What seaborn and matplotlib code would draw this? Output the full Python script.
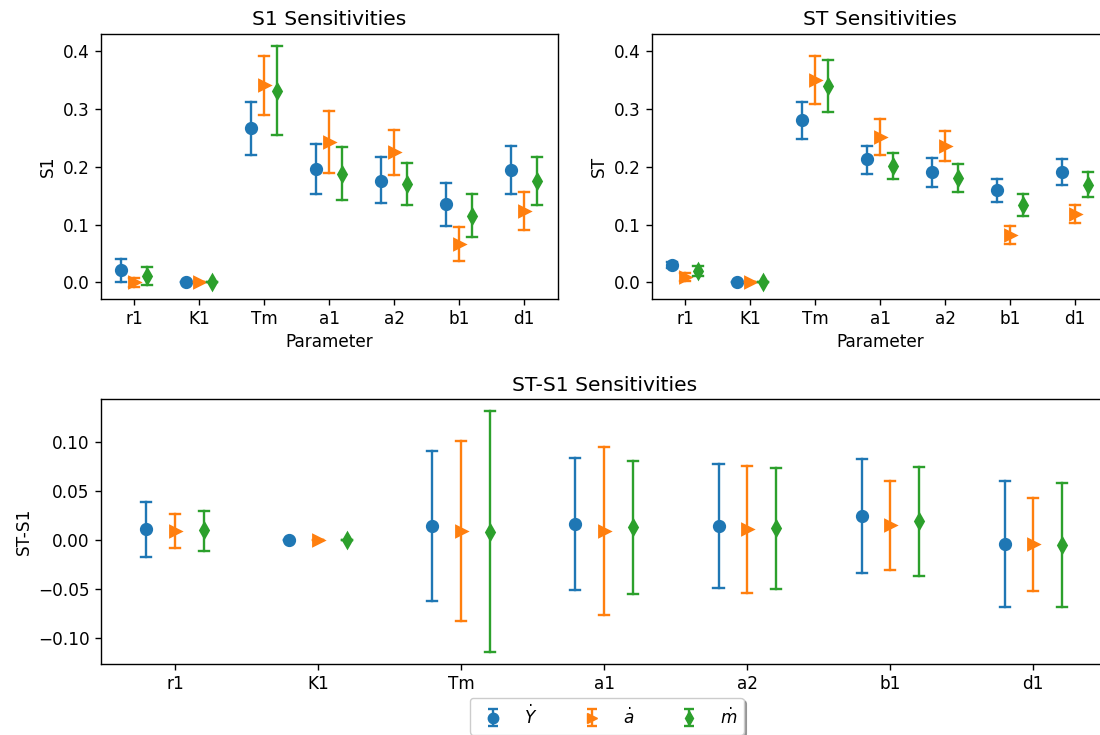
import numpy as np
import pandas as pd
import matplotlib
matplotlib.use("Agg")
import matplotlib.pyplot as plt
import seaborn as sns

params = ["r1", "K1", "Tm", "a1", "a2", "b1", "d1"]
series = [r"$\dot{Y}$", r"$\dot{a}$", r"$\dot{m}$"]
colors = sns.color_palette("tab10")[:3]
markers = ["o", ">", "d"]

# S1 (first order) - estimate, lower, upper
s1_ydot = [0.021, 0.0, 0.266, 0.196, 0.176, 0.135, 0.194]
s1_ydot_lo = [0.0, 0.0, 0.221, 0.153, 0.138, 0.098, 0.153]
s1_ydot_hi = [0.040, 0.0, 0.312, 0.239, 0.216, 0.172, 0.236]
s1_adot = [0.0, 0.0, 0.341, 0.243, 0.225, 0.067, 0.123]
s1_adot_lo = [-0.007, 0.0, 0.290, 0.189, 0.186, 0.037, 0.090]
s1_adot_hi = [0.007, 0.0, 0.391, 0.296, 0.264, 0.096, 0.156]
s1_mdot = [0.011, 0.0, 0.331, 0.188, 0.170, 0.115, 0.175]
s1_mdot_lo = [-0.005, 0.0, 0.254, 0.143, 0.133, 0.078, 0.133]
s1_mdot_hi = [0.026, 0.0, 0.409, 0.234, 0.206, 0.152, 0.217]

# ST (total order)
st_ydot = [0.0305, 0.0, 0.281, 0.213, 0.190, 0.159, 0.190]
st_ydot_lo = [0.025, 0.0, 0.248, 0.188, 0.165, 0.139, 0.168]
st_ydot_hi = [0.036, 0.0, 0.312, 0.236, 0.215, 0.179, 0.213]
st_adot = [0.010, 0.0, 0.350, 0.252, 0.236, 0.082, 0.118]
st_adot_lo = [0.002, 0.0, 0.309, 0.220, 0.209, 0.066, 0.103]
st_adot_hi = [0.017, 0.0, 0.391, 0.282, 0.262, 0.097, 0.133]
st_mdot = [0.020, 0.0, 0.339, 0.201, 0.181, 0.134, 0.169]
st_mdot_lo = [0.0115, 0.0, 0.294, 0.179, 0.156, 0.115, 0.148]
st_mdot_hi = [0.028, 0.0, 0.385, 0.223, 0.205, 0.153, 0.191]

# ST - S1
d_ydot = [0.0109, 0.0, 0.0146, 0.0167, 0.0143, 0.0245, -0.0037]
d_ydot_lo = [-0.0170, 0.0, -0.0622, -0.0507, -0.0493, -0.0333, -0.0680]
d_ydot_hi = [0.0388, 0.0, 0.0912, 0.0837, 0.0776, 0.0823, 0.0605]
d_adot = [0.0095, 0.0, 0.0095, 0.0095, 0.0109, 0.0150, -0.0044]
d_adot_lo = [-0.0082, 0.0, -0.0823, -0.0762, -0.0540, -0.0306, -0.0524]
d_adot_hi = [0.0265, 0.0, 0.1010, 0.0946, 0.0755, 0.0605, 0.0429]
d_mdot = [0.0099, 0.0, 0.0082, 0.0129, 0.0119, 0.0194, -0.0048]
d_mdot_lo = [-0.0109, 0.0, -0.1143, -0.0548, -0.0503, -0.0364, -0.0687]
d_mdot_hi = [0.0296, 0.0, 0.1316, 0.0806, 0.0731, 0.0745, 0.0582]

plt.rcParams.update({
    "font.size": 12.2,
    "axes.linewidth": 1.0,
    "xtick.major.size": 4.3,
    "ytick.major.size": 4.3,
    "xtick.major.width": 1.0,
    "ytick.major.width": 1.0,
})


def long_table(triples):
    # each point becomes 3 rows (lo, est, hi): median gives the estimate,
    # the 100% percentile interval gives the error bar
    rows = []
    for name, (est, lo, hi) in zip(series, triples):
        for p, e, l, h in zip(params, est, lo, hi):
            for v in (l, e, h):
                rows.append({"Parameter": p, "value": v, "series": name})
    return pd.DataFrame(rows)


def draw(ax, df, capsize):
    sns.pointplot(data=df, x="Parameter", y="value", hue="series",
                  order=params, hue_order=series, palette=colors,
                  estimator="median", errorbar=("pi", 100), dodge=0.4,
                  markers=markers, linestyles="none", capsize=capsize,
                  err_kws={"linewidth": 1.7}, markersize=7.5, legend=False, ax=ax)
    ax.set_xlim(-0.52, 6.52)


fig = plt.figure(figsize=(11, 7.35), dpi=100)
ax1 = fig.add_axes([0.0914, 0.5936, 0.4159, 0.3608])
ax2 = fig.add_axes([0.5923, 0.5936, 0.4159, 0.3608])
ax3 = fig.add_axes([0.0914, 0.0966, 0.9155, 0.3600])

draw(ax1, long_table([(s1_ydot, s1_ydot_lo, s1_ydot_hi),
                      (s1_adot, s1_adot_lo, s1_adot_hi),
                      (s1_mdot, s1_mdot_lo, s1_mdot_hi)]), 0.15)
ax1.set_ylim(-0.028, 0.43)
ax1.set_title("S1 Sensitivities", fontsize=14.6)
ax1.set_xlabel("Parameter")
ax1.set_ylabel("S1")

draw(ax2, long_table([(st_ydot, st_ydot_lo, st_ydot_hi),
                      (st_adot, st_adot_lo, st_adot_hi),
                      (st_mdot, st_mdot_lo, st_mdot_hi)]), 0.15)
ax2.set_ylim(-0.028, 0.43)
ax2.set_title("ST Sensitivities", fontsize=14.6)
ax2.set_xlabel("Parameter")
ax2.set_ylabel("ST")

draw(ax3, long_table([(d_ydot, d_ydot_lo, d_ydot_hi),
                      (d_adot, d_adot_lo, d_adot_hi),
                      (d_mdot, d_mdot_lo, d_mdot_hi)]), 0.07)
ax3.set_ylim(-0.1266, 0.1435)
ax3.set_title("ST-S1 Sensitivities", fontsize=14.6)
ax3.set_xlabel("")
ax3.set_ylabel("ST-S1")

# errorbar-style legend handles
handles = []
for c, m, name in zip(colors, markers, series):
    h = ax3.errorbar([np.nan], [np.nan], yerr=[np.nan], fmt=m, color=c,
                     markersize=7.5, capsize=3.5, elinewidth=1.7, capthick=1.7,
                     label=name)
    handles.append(h)
fig.legend(handles, series, loc="center", bbox_to_anchor=(0.5514, 0.0255),
           ncol=3, shadow=True, columnspacing=2.25, fontsize=12.2)

fig.savefig("out.png", dpi=100)
